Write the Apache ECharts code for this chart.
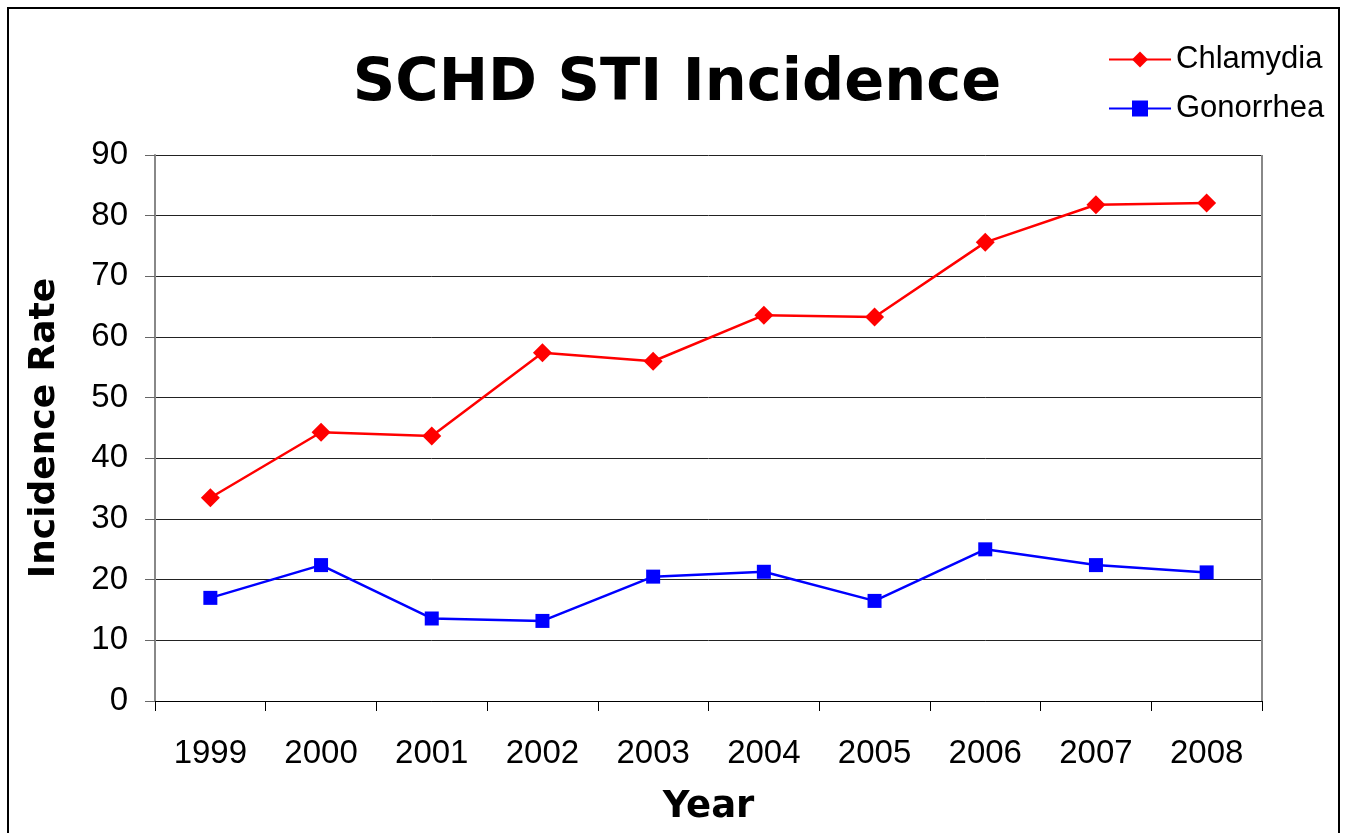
<!DOCTYPE html>
<html>
<head>
<meta charset="utf-8">
<style>
  html, body { margin: 0; padding: 0; background: #fff; }
  #chart { width: 1347px; height: 833px; }
</style>
<script src="https://cdn.jsdelivr.net/npm/echarts@6/dist/echarts.min.js"></script>
</head>
<body>
<div id="chart"></div>
<script>
const years = ['1999', '2000', '2001', '2002', '2003', '2004', '2005', '2006', '2007', '2008']
const chlamydia = [33.5, 44.3, 43.7, 57.4, 56.0, 63.6, 63.3, 75.6, 81.8, 82.1]
const gonorrhea = [17.0, 22.4, 13.6, 13.2, 20.5, 21.3, 16.5, 25.0, 22.4, 21.2]

const sans = '"Liberation Sans", Arial, sans-serif'
const boldFont = '"DejaVu Sans", Verdana, sans-serif'

const chart = echarts.init(document.getElementById('chart'))

chart.setOption({
  animation: false,
  backgroundColor: '#fff',
  title: {
    text: 'SCHD STI Incidence',
    left: 672,
    top: 50,
    textAlign: 'center',
    textStyle: { fontFamily: boldFont, fontWeight: 'bold', fontSize: 59, color: '#000' }
  },
  legend: {
    orient: 'vertical',
    left: 1103,
    top: 39,
    itemWidth: 62,
    itemHeight: 20,
    itemGap: 18,
    textStyle: { fontFamily: sans, fontSize: 31, color: '#000' },
    data: ['Chlamydia', 'Gonorrhea']
  },
  graphic: [{
    type: 'rect',
    shape: { x: 8, y: 8, width: 1331, height: 840 },
    style: { fill: 'none', stroke: '#000', lineWidth: 2 },
    z: -1
  }],
  grid: { left: 155, right: 85, top: 155, bottom: 132, outerBoundsMode: 'none' },
  xAxis: {
    type: 'category',
    data: years,
    boundaryGap: true,
    name: 'Year',
    nameLocation: 'middle',
    nameGap: 88,
    nameTextStyle: { fontFamily: boldFont, fontWeight: 'bold', fontSize: 37, color: '#000' },
    axisLine: { lineStyle: { color: '#000', width: 1 } },
    axisTick: { show: true, length: 10, lineStyle: { color: '#000' } },
    axisLabel: { fontFamily: sans, fontSize: 33, color: '#000', margin: 36 },
    splitLine: { show: false }
  },
  yAxis: {
    type: 'value',
    min: 0,
    max: 90,
    interval: 10,
    name: 'Incidence Rate',
    nameLocation: 'middle',
    nameRotate: 90,
    nameGap: 92,
    nameTextStyle: { fontFamily: boldFont, fontWeight: 'bold', fontSize: 36, color: '#000' },
    axisLine: { show: true, lineStyle: { color: '#888', width: 2 } },
    axisTick: { show: true, length: 10, lineStyle: { color: '#666' } },
    axisLabel: { fontFamily: sans, fontSize: 33, color: '#000', margin: 27 },
    splitLine: { show: true, lineStyle: { color: '#222', width: 1 } }
  },
  series: [{
    name: 'Chlamydia',
    type: 'line',
    data: chlamydia,
    symbol: 'diamond',
    symbolSize: 19,
    lineStyle: { color: '#ff0000', width: 2.5 },
    itemStyle: { color: '#ff0000' }
  }, {
    name: 'Gonorrhea',
    type: 'line',
    data: gonorrhea,
    symbol: 'rect',
    symbolSize: 14,
    lineStyle: { color: '#0000ff', width: 2.5 },
    itemStyle: { color: '#0000ff' }
  }, {
    // plot area right border
    type: 'line',
    data: [],
    markLine: {
      silent: true,
      symbol: 'none',
      label: { show: false },
      lineStyle: { color: '#888', width: 2, type: 'solid' },
      data: [[{ coord: [9, 0], x: 1262 }, { coord: [9, 90], x: 1262 }]]
    }
  }]
})
</script>
</body>
</html>
